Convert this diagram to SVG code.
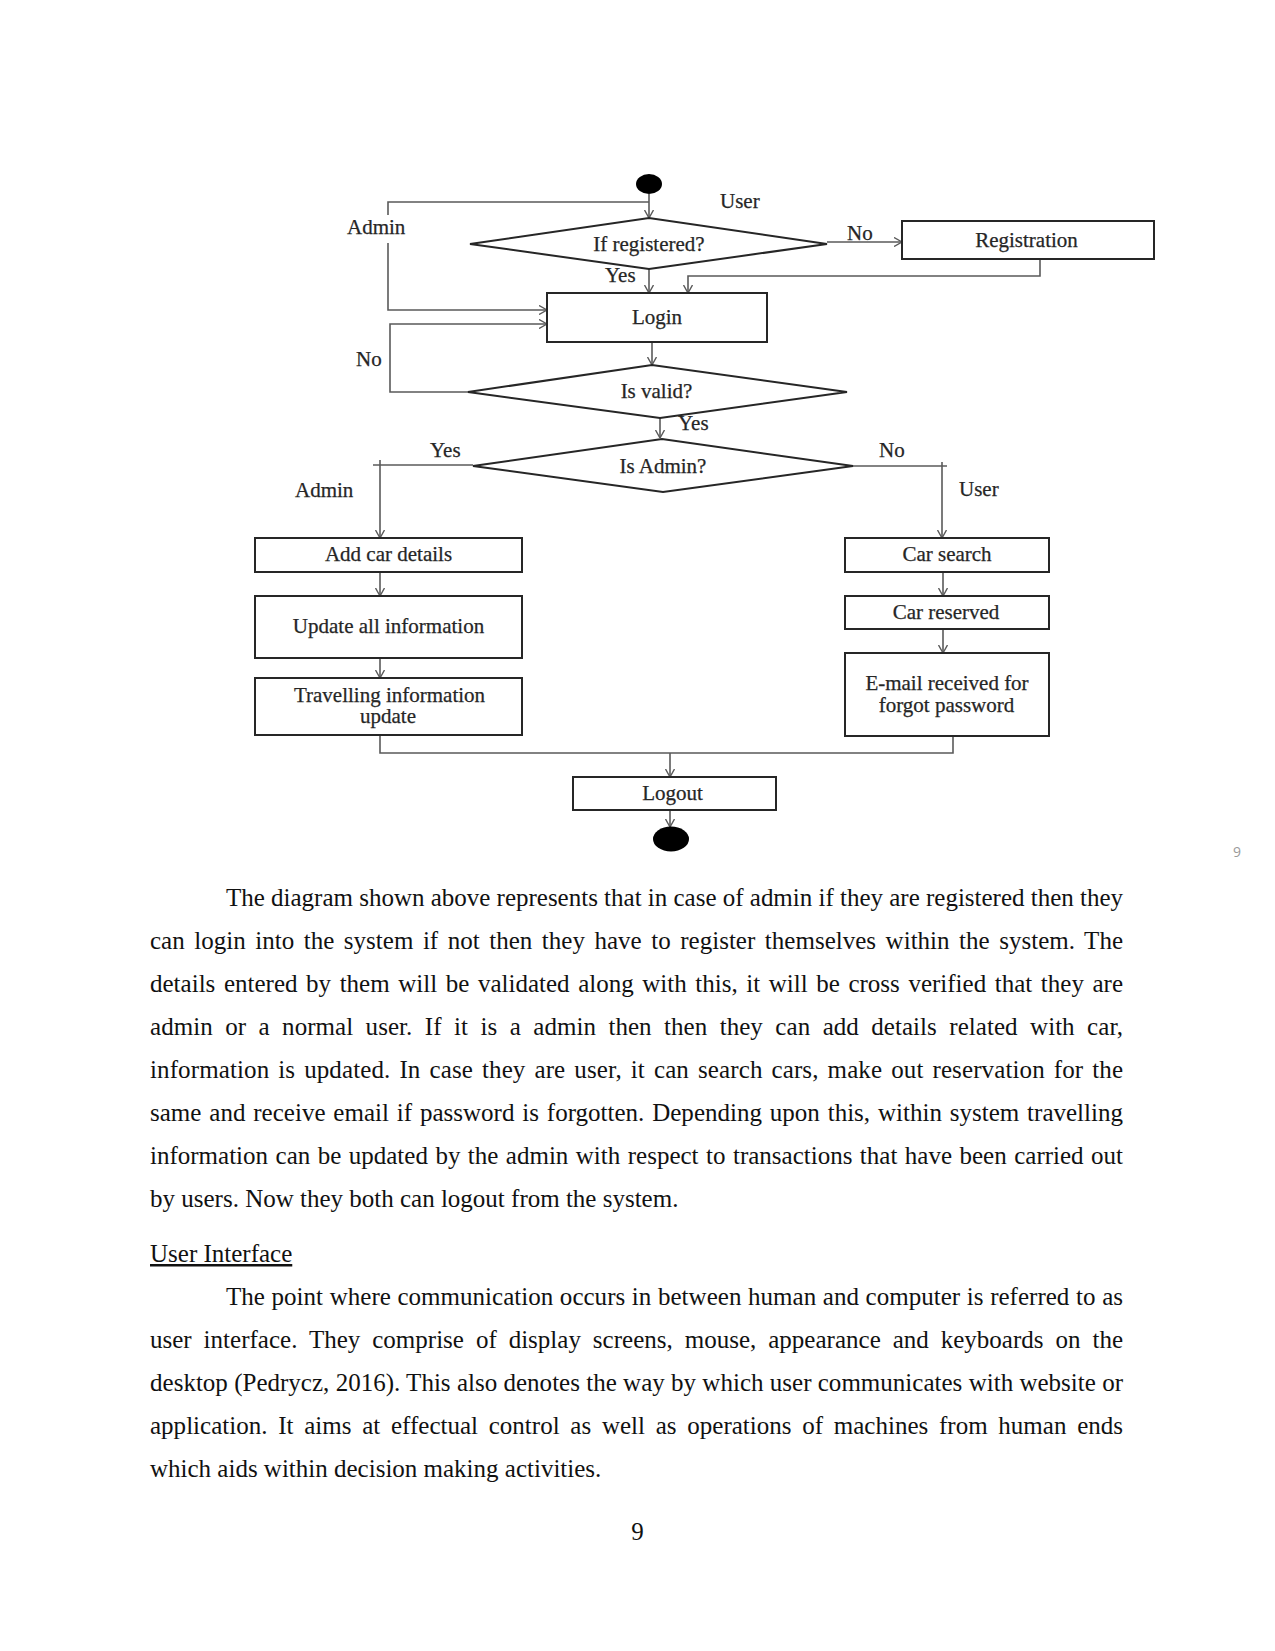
<svg xmlns="http://www.w3.org/2000/svg" width="1275" height="1651" viewBox="0 0 1275 1651">
<style>
.bg{fill:#ffffff}
.box{fill:#ffffff;stroke:#262626;stroke-width:2}
.dia{fill:#ffffff;stroke:#262626;stroke-width:2}
.conn{fill:none;stroke:#5a5a5a;stroke-width:1.6}
.lbl{font-family:"Liberation Serif","Times New Roman",serif;font-size:21px;fill:#262626;stroke:#262626;stroke-width:0.25}
.mid{text-anchor:middle}
.body{font-family:"Liberation Serif","Times New Roman",serif;font-size:25px;fill:#111111}
.dot{fill:#000000}
</style>
<defs>
<marker id="arr" viewBox="0 0 8 10" refX="8" refY="5" markerWidth="8" markerHeight="10" markerUnits="userSpaceOnUse" orient="auto">
<path d="M0,0.5 L8,5 L0,9.5" fill="none" stroke="#5a5a5a" stroke-width="1.4"/>
</marker>
</defs>
<rect class="bg" x="0" y="0" width="1275" height="1651"/>

<g id="connectors">
<path class="conn" d="M649,194 L649,218" marker-end="url(#arr)"/>
<path class="conn" d="M649,202 L388,202 L388,215"/>
<path class="conn" d="M388,243 L388,310 L547,310" marker-end="url(#arr)"/>
<path class="conn" d="M649,269 L649,293" marker-end="url(#arr)"/>
<path class="conn" d="M827,242 L902,242" marker-end="url(#arr)"/>
<path class="conn" d="M1040,259 L1040,276 L688,276 L688,293" marker-end="url(#arr)"/>
<path class="conn" d="M652,342 L652,365" marker-end="url(#arr)"/>
<path class="conn" d="M468,392 L390,392 L390,324 L547,324" marker-end="url(#arr)"/>
<path class="conn" d="M660,418 L660,438" marker-end="url(#arr)"/>
<path class="conn" d="M473,465 L373,465"/>
<path class="conn" d="M380,460 L380,538" marker-end="url(#arr)"/>
<path class="conn" d="M853,466 L947,466"/>
<path class="conn" d="M942,462 L942,538" marker-end="url(#arr)"/>
<path class="conn" d="M380,572 L380,596" marker-end="url(#arr)"/>
<path class="conn" d="M380,658 L380,678" marker-end="url(#arr)"/>
<path class="conn" d="M943,572 L943,596" marker-end="url(#arr)"/>
<path class="conn" d="M943,629 L943,653" marker-end="url(#arr)"/>
<path class="conn" d="M380,735 L380,753 L953,753 L953,736"/>
<path class="conn" d="M670,753 L670,777" marker-end="url(#arr)"/>
<path class="conn" d="M670,810 L670,827" marker-end="url(#arr)"/>
<text class="lbl" x="720" y="208">User</text>
<text class="lbl" x="347" y="234">Admin</text>
<text class="lbl" x="605" y="282">Yes</text>
<text class="lbl" x="847" y="240">No</text>
<text class="lbl" x="356" y="366">No</text>
<text class="lbl" x="678" y="430">Yes</text>
<text class="lbl" x="430" y="457">Yes</text>
<text class="lbl" x="879" y="457">No</text>
<text class="lbl" x="295" y="497">Admin</text>
<text class="lbl" x="959" y="496">User</text>
</g>

<g id="start">
<ellipse class="dot" cx="649" cy="184" rx="13" ry="10"/>
</g>
<g id="if-registered">
<polygon class="dia" points="470,244 649,218 827,244 649,269"/>
<text class="lbl mid" x="649" y="251">If registered?</text>
</g>
<g id="registration">
<rect class="box" x="902" y="221" width="252" height="38"/>
<text class="lbl mid" x="1026.5" y="247">Registration</text>
</g>
<g id="login">
<rect class="box" x="547" y="293" width="220" height="49"/>
<text class="lbl mid" x="657" y="324">Login</text>
</g>
<g id="is-valid">
<polygon class="dia" points="468,392 652,365 847,392 660,418"/>
<text class="lbl mid" x="656.5" y="398">Is valid?</text>
</g>
<g id="is-admin">
<polygon class="dia" points="473,466 662,439 853,466 663,492"/>
<text class="lbl mid" x="663" y="473">Is Admin?</text>
</g>
<g id="add-car-details">
<rect class="box" x="255" y="538" width="267" height="34"/>
<text class="lbl mid" x="388.5" y="561">Add car details</text>
</g>
<g id="update-all-information">
<rect class="box" x="255" y="596" width="267" height="62"/>
<text class="lbl mid" x="388.5" y="633">Update all information</text>
</g>
<g id="travelling-information-update">
<rect class="box" x="255" y="678" width="267" height="57"/>
<text class="lbl mid" x="389.5" y="702">Travelling information</text>
<text class="lbl mid" x="388" y="723">update</text>
</g>
<g id="car-search">
<rect class="box" x="845" y="538" width="204" height="34"/>
<text class="lbl mid" x="947" y="561">Car search</text>
</g>
<g id="car-reserved">
<rect class="box" x="845" y="596" width="204" height="33"/>
<text class="lbl mid" x="946" y="619">Car reserved</text>
</g>
<g id="email-received">
<rect class="box" x="845" y="653" width="204" height="83"/>
<text class="lbl mid" x="947" y="690">E-mail received for</text>
<text class="lbl mid" x="946.5" y="712">forgot password</text>
</g>
<g id="logout">
<rect class="box" x="573" y="777" width="203" height="33"/>
<text class="lbl mid" x="672.5" y="800">Logout</text>
</g>
<g id="end">
<ellipse class="dot" cx="671" cy="839" rx="18" ry="12.5"/>
</g>

<text x="1237" y="857" text-anchor="middle" style="font-family:'Open Sans','Noto Sans',sans-serif;font-size:14px;fill:#9a9a9a">9</text>

<g id="body-text">
<text class="body" x="226" y="906" textLength="897" lengthAdjust="spacing">The diagram shown above represents that in case of admin if they are registered then they</text>
<text class="body" x="150" y="949" word-spacing="3.28" textLength="973" lengthAdjust="spacing">can login into the system if not then they have to register themselves within the system. The</text>
<text class="body" x="150" y="992" word-spacing="2.31" textLength="973" lengthAdjust="spacing">details entered by them will be validated along with this, it will be cross verified that they are</text>
<text class="body" x="150" y="1035" word-spacing="6.2" textLength="973" lengthAdjust="spacing">admin or a normal user. If it is a admin then then they can add details related with car,</text>
<text class="body" x="150" y="1078" word-spacing="2.65" textLength="973" lengthAdjust="spacing">information is updated. In case they are user, it can search cars, make out reservation for the</text>
<text class="body" x="150" y="1121" word-spacing="1.58" textLength="973" lengthAdjust="spacing">same and receive email if password is forgotten. Depending upon this, within system travelling</text>
<text class="body" x="150" y="1164" word-spacing="1.19" textLength="973" lengthAdjust="spacing">information can be updated by the admin with respect to transactions that have been carried out</text>
<text class="body" x="150" y="1207">by users. Now they both can logout from the system.</text>
<text class="body" x="150" y="1262" text-decoration="underline">User Interface</text>
<text class="body" x="226" y="1305" word-spacing="0.38" textLength="897" lengthAdjust="spacing">The point where communication occurs in between human and computer is referred to as</text>
<text class="body" x="150" y="1348" word-spacing="5.66" textLength="973" lengthAdjust="spacing">user interface. They comprise of display screens, mouse, appearance and keyboards on the</text>
<text class="body" x="150" y="1391" textLength="973" lengthAdjust="spacing">desktop (Pedrycz, 2016). This also denotes the way by which user communicates with website or</text>
<text class="body" x="150" y="1434" word-spacing="4.45" textLength="973" lengthAdjust="spacing">application. It aims at effectual control as well as operations of machines from human ends</text>
<text class="body" x="150" y="1477">which aids within decision making activities.</text>
<text class="body" x="637.5" y="1540" text-anchor="middle">9</text>
</g>
</svg>
